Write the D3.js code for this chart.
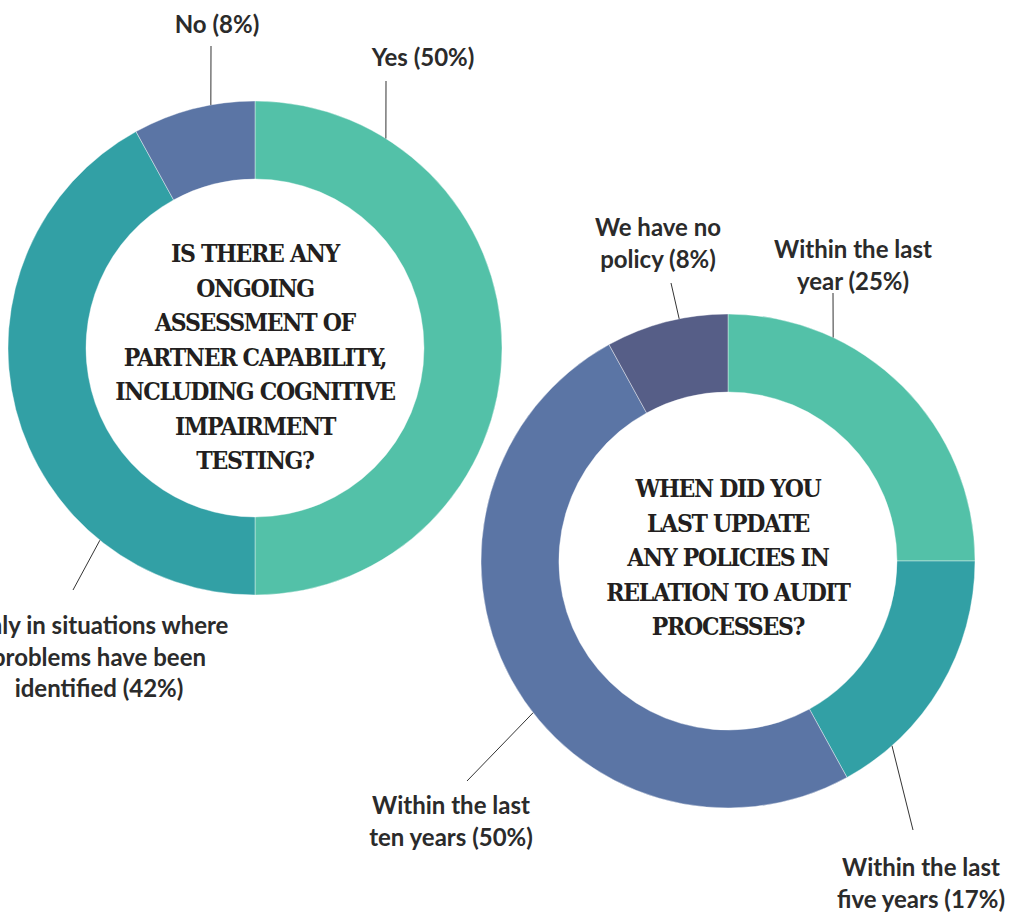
<!DOCTYPE html>
<html><head><meta charset="utf-8">
<script src="https://cdn.jsdelivr.net/npm/d3@7"></script>
<style>
html,body{margin:0;padding:0;background:#fff;}
svg{display:block;}
.lbl{font-family:Lato,"Noto Sans",sans-serif;font-weight:700;fill:#2b2b2b;}
.ttl{font-family:"DejaVu Serif",serif;font-weight:700;fill:#231f20;font-stretch:condensed;}
</style></head>
<body>
<svg id="chart" width="1010" height="914"></svg>
<script>
// ---- data ----
const chart1Categories = ["Yes", "Only in situations where problems have been identified", "No"];
const chart1Values = [50, 42, 8];
const chart1Title = ["IS THERE ANY", "ONGOING", "ASSESSMENT OF", "PARTNER CAPABILITY,", "INCLUDING COGNITIVE", "IMPAIRMENT", "TESTING?"];
const chart1Labels = [["Yes (50%)"], ["Only in situations where", "problems have been", "identified (42%)"], ["No (8%)"]];

const chart2Categories = ["Within the last year", "Within the last five years", "Within the last ten years", "We have no policy"];
const chart2Values = [25, 17, 50, 8];
const chart2Title = ["WHEN DID YOU", "LAST UPDATE", "ANY POLICIES IN", "RELATION TO AUDIT", "PROCESSES?"];
const chart2Labels = [["Within the last", "year (25%)"], ["Within the last", "five years (17%)"], ["Within the last", "ten years (50%)"], ["We have no", "policy (8%)"]];

const chart1Colors = ["#53c1a8", "#32a0a5", "#5b75a5"];
const chart2Colors = ["#53c1a8", "#32a0a5", "#5b75a5", "#565e87"];

// ---- layout ----
const svg = d3.select("#chart");
const R = 247, r = 169;

const charts = [
  { cx: 255, cy: 348, values: chart1Values, cats: chart1Categories, colors: chart1Colors, title: chart1Title, titleBase: 262,
    labels: chart1Labels,
    leaders: [
      { ang: 32, ex: 386, ey: 81, lx: 423, ly: 66 },
      { ang: 218.9, ex: 73, ey: 590, lx: 99, ly: 634 },
      { ang: 349.7, ex: 211, ey: 46, lx: 217, ly: 33 }
    ] },
  { cx: 728, cy: 561, values: chart2Values, cats: chart2Categories, colors: chart2Colors, title: chart2Title, titleBase: 497,
    labels: chart2Labels,
    leaders: [
      { ang: 25.2, ex: 833, ey: 293, lx: 853, ly: 258 },
      { ang: 138.4, ex: 913, ey: 830, lx: 921, ly: 876 },
      { ang: 232.1, ex: 467, ey: 781, lx: 451, ly: 814 },
      { ang: 348.6, ex: 671, ey: 283, lx: 658, ly: 236 }
    ] }
];

const pie = d3.pie().sort(null).value(d => d);
const arc = d3.arc().innerRadius(r).outerRadius(R);

charts.forEach(c => {
  const g = svg.append("g").attr("transform", `translate(${c.cx},${c.cy})`);
  g.selectAll("path").data(pie(c.values)).join("path")
    .attr("d", arc)
    .attr("fill", (d, i) => c.colors[i])
    .attr("stroke", "#ffffff").attr("stroke-width", 0.4);

  const t = svg.append("text").attr("class", "ttl").attr("text-anchor", "middle")
    .attr("font-size", 24.5).attr("letter-spacing", -1.3);
  c.title.forEach((line, i) => {
    t.append("tspan").attr("x", c.cx).attr("y", c.titleBase + i * 34.5).text(line);
  });

  c.leaders.forEach((L, i) => {
    const a = L.ang * Math.PI / 180;
    const sx = c.cx + R * Math.sin(a), sy = c.cy - R * Math.cos(a);
    svg.append("line").attr("x1", sx).attr("y1", sy).attr("x2", L.ex).attr("y2", L.ey)
      .attr("stroke", "#333").attr("stroke-width", 1);
    const lt = svg.append("text").attr("class", "lbl").attr("text-anchor", "middle").attr("font-size", 24);
    c.labels[i].forEach((line, j) => {
      lt.append("tspan").attr("x", L.lx).attr("y", L.ly + j * 31.5).text(line);
    });
  });
});
</script>
</body></html>
